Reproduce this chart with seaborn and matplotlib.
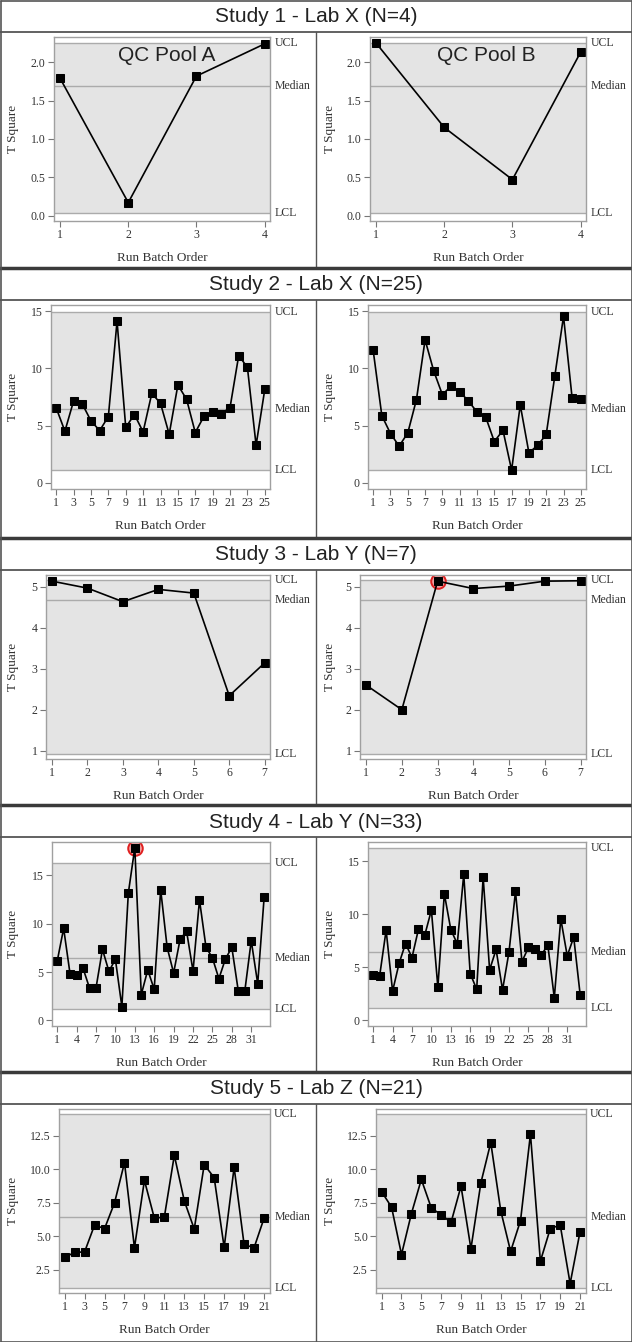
import pandas as pd
import seaborn as sns
import matplotlib.pyplot as plt
import matplotlib.transforms as mtransforms
from matplotlib.lines import Line2D

# T-square values per study, QC pool A (left) and QC pool B (right)
titles = ["Study 1 - Lab X (N=4)", "Study 2 - Lab X (N=25)", "Study 3 - Lab Y (N=7)",
          "Study 4 - Lab Y (N=33)", "Study 5 - Lab Z (N=21)"]

s1_a = [1.79, 0.17, 1.82, 2.24]
s1_b = [2.25, 1.15, 0.47, 2.13]
s2_a = [6.54, 4.51, 7.15, 6.89, 5.41, 4.56, 5.79, 14.13, 4.85, 5.96, 4.45, 7.82, 6.95,
        4.24, 8.55, 7.30, 4.39, 5.81, 6.22, 6.05, 6.57, 11.13, 10.09, 3.28, 8.17]
s2_b = [11.57, 5.87, 4.30, 3.20, 4.36, 7.27, 12.50, 9.77, 7.70, 8.46, 7.97, 7.15, 6.19,
        5.76, 3.60, 4.59, 1.10, 6.80, 2.62, 3.26, 4.22, 9.36, 14.56, 7.38, 7.33]
s3_a = [5.13, 4.96, 4.63, 4.93, 4.84, 2.34, 3.14]
s3_b = [2.60, 2.00, 5.13, 4.95, 5.01, 5.13, 5.14]
s4_a = [6.10, 9.52, 4.76, 4.72, 5.38, 3.34, 3.34, 7.34, 5.07, 6.31, 1.41, 13.17, 17.86,
        2.66, 5.21, 3.21, 13.52, 7.55, 4.90, 8.38, 9.24, 5.10, 12.45, 7.59, 6.45, 4.31,
        6.34, 7.55, 3.03, 3.00, 8.24, 3.79, 12.79]
s4_b = [4.31, 4.18, 8.49, 2.74, 5.35, 7.23, 5.91, 8.58, 8.08, 10.38, 3.11, 11.92, 8.55,
        7.20, 13.74, 4.40, 2.92, 13.49, 4.75, 6.67, 2.86, 6.45, 12.14, 5.53, 6.86, 6.70,
        6.16, 7.08, 2.11, 9.56, 6.07, 7.83, 2.39]
s5_a = [3.45, 3.80, 3.85, 5.85, 5.58, 7.50, 10.50, 4.15, 9.18, 6.35, 6.45, 11.05, 7.65,
        5.55, 10.35, 9.38, 4.18, 10.15, 4.40, 4.15, 6.35]
s5_b = [8.33, 7.18, 3.65, 6.70, 9.25, 7.13, 6.60, 6.05, 8.75, 4.08, 8.98, 12.00, 6.93,
        3.88, 6.18, 12.63, 3.15, 5.58, 5.85, 1.48, 5.35]

# (UCL, Median, LCL) per study
limits = [(2.25, 1.69, 0.03), (14.97, 6.43, 1.12), (5.15, 4.66, 0.93),
          (16.25, 6.45, 1.15), (14.1, 6.45, 1.15)]

# out-of-control runs (1-based) circled in red
flags_a = [[], [], [], [13], []]
flags_b = [[], [], [3], [], []]

series_a = [s1_a, s2_a, s3_a, s4_a, s5_a]
series_b = [s1_b, s2_b, s3_b, s4_b, s5_b]

yticks = [[0, 0.5, 1.0, 1.5, 2.0], [0, 5, 10, 15], [1, 2, 3, 4, 5], [0, 5, 10, 15],
          [2.5, 5.0, 7.5, 10.0, 12.5]]
yfmt = ["{:.1f}", "{:.0f}", "{:.0f}", "{:.0f}", "{:.1f}"]
ylims_a = [(-0.07, 2.33), (-0.55, 15.55), (0.80, 5.28), (-0.59, 18.46), (0.78, 14.5)]
ylims_b = [(-0.07, 2.33), (-0.55, 15.55), (0.80, 5.28), (-0.54, 16.8), (0.78, 14.5)]
xlims = [(0.91, 4.08), (0.4, 25.6), (0.83, 7.15), (0.2, 33.9), (0.43, 21.6)]
xsteps = [1, 2, 1, 3, 2]

W, H = 632, 1342
band_tops = [0, 268, 538, 805, 1072]
band_bots = [268, 538, 805, 1072, 1342]
left_a = [54, 51, 46, 52, 59]
left_b = [370, 368, 360, 368, 376]

sns.set_style("white")
plt.rcParams["font.family"] = ["Liberation Serif", "DejaVu Serif"]

fig = plt.figure(figsize=(W / 100, H / 100), dpi=100)


def px_axes(x0, x1, y0, y1):
    return fig.add_axes([x0 / W, 1 - y1 / H, (x1 - x0) / W, (y1 - y0) / H])


def fig_line(x0, y0, x1, y1, lw, color):
    fig.add_artist(Line2D([x0 / W, x1 / W], [1 - y0 / H, 1 - y1 / H],
                          transform=fig.transFigure, lw=lw, color=color))


def draw_panel(ax, vals, flags, lim, i, ylim, x_label):
    ucl, med, lcl = lim
    df = pd.DataFrame({"run": range(1, len(vals) + 1), "t2": vals})
    df["flag"] = df["run"].isin(flags)
    ax.set_facecolor("white")
    ax.axhspan(lcl, ucl, color="#e4e4e4", zorder=0, lw=0)
    for v in (ucl, med, lcl):
        ax.axhline(v, color="#ababab", lw=1.0, zorder=0.5)
    if df["flag"].any():
        sns.scatterplot(data=df[df["flag"]], x="run", y="t2", s=110, color="#f3a3a3",
                        edgecolor="#e02020", linewidth=1.4, zorder=1, ax=ax, legend=False)
    sns.lineplot(data=df, x="run", y="t2", marker="s", color="black", markersize=5.5,
                 markeredgecolor="black", linewidth=1.2, zorder=2, ax=ax)
    trans = mtransforms.blended_transform_factory(ax.transAxes, ax.transData)
    for v, lab in zip((ucl, med, lcl), ("UCL", "Median", "LCL")):
        ax.text(1.02, v, lab, transform=trans, va="center", ha="left", fontsize=8.5,
                color="#333333")
    ax.set_xlim(*xlims[i])
    ax.set_ylim(*ylim)
    ax.set_xticks(range(1, len(vals) + 1, xsteps[i]))
    ax.set_yticks(yticks[i])
    ax.set_yticklabels([yfmt[i].format(t) for t in yticks[i]])
    ax.tick_params(direction="out", length=4, width=0.8, color="#777777",
                   labelsize=8.5, labelcolor="#333333", pad=2,
                   bottom=True, left=True)
    for sp in ax.spines.values():
        sp.set_color("#a0a0a0")
        sp.set_linewidth(1.0)
    ax.set_xlabel("Run Batch Order", fontsize=9.5, color="#333333")
    ax.set_ylabel("T Square", fontsize=9.5, color="#333333")
    ax.xaxis.set_label_coords(0.5, -0.17)
    pos = ax.get_position()
    ax.yaxis.set_label_coords((x_label - pos.x0 * W) / (pos.width * W), 0.5)


for i in range(5):
    top, bot = band_tops[i], band_bots[i]
    ax_top, ax_bot = top + 37, top + 221
    ax_a = px_axes(left_a[i], 270, ax_top, ax_bot)
    ax_b = px_axes(left_b[i], 586, ax_top, ax_bot)
    draw_panel(ax_a, series_a[i], flags_a[i], limits[i], i, ylims_a[i], 19)
    draw_panel(ax_b, series_b[i], flags_b[i], limits[i], i, ylims_b[i], 336)

    fig.text(0.5, 1 - (top + 17) / H, titles[i], ha="center", va="center",
             fontsize=15, family=["Liberation Sans", "DejaVu Sans"], color="#222222")
    fig_line(0, top + 32, W, top + 32, 1.3, "#555555")
    fig_line(316, top + 32, 316, bot, 1.0, "#555555")
    if i > 0:
        fig_line(0, top, W, top, 2.5, "#3a3a3a")

    if i == 0:
        ax_a.text(0.52, 0.90, "QC Pool A", transform=ax_a.transAxes, ha="center",
                  va="center", fontsize=15, family=["Liberation Sans", "DejaVu Sans"],
                  color="#222222")
        ax_b.text(0.54, 0.90, "QC Pool B", transform=ax_b.transAxes, ha="center",
                  va="center", fontsize=15, family=["Liberation Sans", "DejaVu Sans"],
                  color="#222222")

# outer border
fig_line(0.5, 0.5, W - 0.5, 0.5, 1.2, "#555555")
fig_line(0.5, H - 0.5, W - 0.5, H - 0.5, 1.2, "#555555")
fig_line(0.5, 0.5, 0.5, H - 0.5, 1.2, "#555555")
fig_line(W - 0.5, 0.5, W - 0.5, H - 0.5, 1.2, "#555555")

fig.savefig("out.png", dpi=100)
